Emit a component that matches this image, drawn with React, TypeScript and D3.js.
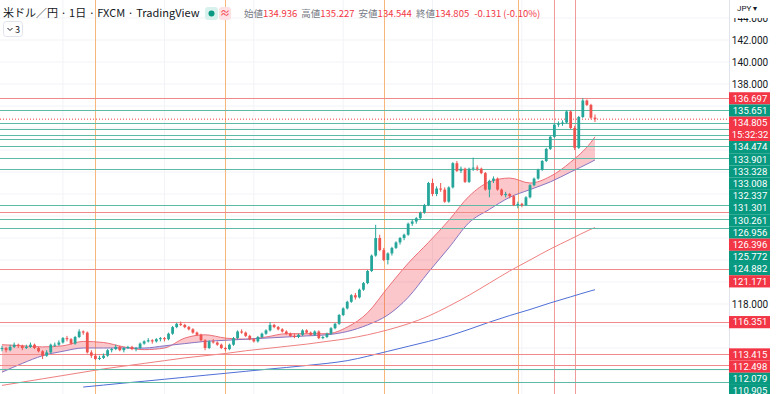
import React from "react";
import * as d3 from "d3";

// 米ドル／円 日足 (FXCM) — 価格は画面から読み取った概算値
const candles: [number, number, number, number][] = [
  [113.9, 114.2, 113.7, 114.0], [114.0, 114.1, 113.6, 113.8], [113.8, 114.3, 113.7, 114.1],
  [114.1, 114.5, 114.0, 114.3], [114.3, 114.4, 114.0, 114.2], [114.2, 114.3, 113.8, 114.0],
  [114.0, 114.3, 113.9, 114.1], [114.1, 114.5, 114.0, 114.3], [114.3, 114.4, 113.9, 114.0],
  [114.0, 114.1, 113.6, 113.7], [113.7, 113.8, 113.0, 113.3], [113.3, 113.8, 113.2, 113.6],
  [113.6, 114.4, 113.5, 114.3], [114.3, 114.5, 114.1, 114.3], [114.3, 114.7, 114.2, 114.5],
  [114.5, 115.0, 114.4, 114.9], [114.9, 115.1, 114.6, 114.8], [114.8, 114.9, 114.3, 114.4],
  [114.4, 115.1, 114.3, 115.0], [115.0, 115.7, 114.9, 115.5], [115.5, 115.6, 115.2, 115.4],
  [115.4, 115.5, 113.5, 113.6], [113.6, 113.8, 113.1, 113.3], [113.3, 113.5, 112.9, 113.0],
  [113.0, 113.3, 112.9, 113.1], [113.1, 113.5, 113.0, 113.3], [113.3, 113.9, 113.2, 113.8],
  [113.8, 114.0, 113.6, 113.9], [113.9, 114.3, 113.8, 114.1], [114.1, 114.2, 113.7, 113.8],
  [113.8, 114.1, 113.6, 114.0], [114.0, 114.2, 113.9, 114.1], [114.1, 114.2, 113.8, 113.9],
  [113.9, 114.1, 113.7, 114.0], [114.0, 114.5, 113.9, 114.4], [114.4, 114.7, 114.3, 114.6],
  [114.6, 114.9, 114.5, 114.7], [114.7, 114.8, 114.4, 114.6], [114.6, 114.9, 114.5, 114.8],
  [114.8, 115.0, 114.6, 114.9], [114.9, 115.0, 114.6, 114.8], [114.8, 115.4, 114.7, 115.3],
  [115.3, 116.0, 115.2, 115.9], [115.9, 116.3, 115.8, 116.2], [116.2, 116.4, 116.0, 116.1],
  [116.1, 116.2, 115.8, 115.9], [115.9, 116.0, 115.6, 115.7], [115.7, 115.8, 115.3, 115.4],
  [115.4, 115.5, 115.1, 115.2], [115.2, 115.3, 114.6, 114.7], [114.7, 114.8, 113.8, 114.0],
  [114.0, 114.7, 113.9, 114.6], [114.6, 114.8, 114.4, 114.5], [114.5, 114.6, 114.2, 114.3],
  [114.3, 114.4, 113.9, 114.0], [114.0, 114.1, 113.7, 113.9], [113.9, 114.4, 113.8, 114.3],
  [114.3, 115.0, 114.2, 114.9], [114.9, 115.6, 114.8, 115.5], [115.5, 115.7, 115.3, 115.4],
  [115.4, 115.5, 115.0, 115.1], [115.1, 115.2, 114.7, 114.8], [114.8, 114.9, 114.5, 114.6],
  [114.6, 115.1, 114.5, 115.0], [115.0, 115.4, 114.9, 115.3], [115.3, 115.7, 115.2, 115.6],
  [115.6, 116.35, 115.5, 116.1], [116.1, 116.2, 115.8, 115.9], [115.9, 116.0, 115.6, 115.7],
  [115.7, 115.8, 115.4, 115.5], [115.5, 115.6, 115.2, 115.3], [115.3, 115.4, 115.0, 115.1],
  [115.1, 115.3, 114.9, 115.0], [115.0, 115.3, 114.9, 115.2], [115.2, 115.7, 115.1, 115.6],
  [115.6, 115.7, 115.3, 115.4], [115.4, 115.5, 115.1, 115.2], [115.2, 115.6, 115.1, 115.5],
  [115.5, 115.6, 114.8, 114.9], [114.9, 115.1, 114.8, 115.0], [115.0, 115.4, 114.9, 115.3],
  [115.3, 115.9, 115.2, 115.8], [115.8, 116.3, 115.7, 116.2], [116.2, 117.1, 116.1, 117.0],
  [117.0, 117.7, 116.9, 117.6], [117.6, 118.3, 117.5, 118.2], [118.2, 118.9, 118.1, 118.8],
  [118.8, 119.0, 118.4, 118.6], [118.6, 119.4, 118.5, 119.3], [119.3, 120.0, 119.2, 119.9],
  [119.9, 121.1, 119.8, 121.0], [121.0, 122.5, 120.9, 122.4], [122.4, 125.2, 122.3, 124.0],
  [124.0, 124.3, 122.8, 122.9], [122.9, 123.1, 121.9, 122.0], [122.0, 122.7, 121.6, 122.6],
  [122.6, 123.2, 122.4, 123.1], [123.1, 123.7, 123.0, 123.6], [123.6, 124.1, 123.4, 124.0],
  [124.0, 124.4, 123.8, 124.3], [124.3, 125.4, 124.2, 125.3], [125.3, 125.7, 125.1, 125.5],
  [125.5, 125.9, 125.3, 125.8], [125.8, 126.4, 125.7, 126.3], [126.3, 127.1, 126.2, 127.0],
  [127.0, 129.1, 126.9, 129.0], [129.0, 129.4, 127.8, 128.0], [128.0, 128.7, 127.8, 128.5],
  [128.5, 129.0, 128.2, 128.4], [128.4, 128.6, 127.2, 127.3], [127.3, 128.7, 127.2, 128.6],
  [128.6, 130.9, 128.5, 130.8], [130.8, 131.0, 130.0, 130.1], [130.1, 130.5, 129.9, 130.3],
  [130.3, 130.4, 129.0, 129.1], [129.1, 130.4, 129.0, 130.3], [130.3, 131.3, 130.1, 130.4],
  [130.4, 130.6, 130.1, 130.3], [130.3, 130.4, 129.8, 129.9], [129.9, 130.0, 128.3, 128.4],
  [128.4, 129.3, 127.7, 129.2], [129.2, 129.6, 129.0, 129.4], [129.4, 129.5, 128.3, 128.4],
  [128.4, 128.5, 127.8, 127.9], [127.9, 128.2, 127.7, 128.0], [128.0, 128.1, 127.6, 127.8],
  [127.8, 127.9, 126.9, 127.0], [127.0, 127.3, 126.7, 127.1], [127.1, 127.2, 126.8, 127.0],
  [127.0, 127.8, 126.9, 127.7], [127.7, 128.9, 127.6, 128.8], [128.8, 129.5, 128.7, 129.4],
  [129.4, 130.3, 129.3, 130.2], [130.2, 131.1, 130.1, 131.0], [131.0, 132.2, 130.9, 132.1],
  [132.1, 133.3, 132.0, 133.2], [133.2, 134.4, 133.1, 134.3], [134.3, 134.6, 134.1, 134.4],
  [134.4, 134.7, 134.2, 134.5], [134.5, 135.6, 134.4, 135.5], [135.5, 135.6, 133.9, 134.0],
  [134.0, 134.2, 132.0, 132.2], [132.2, 135.1, 132.1, 135.0], [135.0, 136.697, 134.9, 136.5],
  [136.5, 136.6, 136.0, 136.1], [136.1, 136.2, 134.8, 134.936], [134.936, 135.227, 134.544, 134.805],
];

// 移動平均線（5本ごとに読み取り）
const maIdx = [0, 5, 10, 15, 20, 25, 30, 35, 40, 45, 50, 55, 60, 65, 70, 75, 80, 85, 90, 95, 100, 105, 110, 115, 120, 125, 130, 135, 140, 145, 146];
const maFast = [114.3, 114.2, 114.1, 114.2, 114.6, 114.5, 114.1, 113.85, 114.0, 114.9, 115.2, 114.9, 114.8, 115.0, 115.3, 115.3, 115.3, 115.9, 117.2, 119.5, 121.7, 123.6, 125.6, 127.8, 129.1, 129.45, 129.0, 129.6, 130.9, 132.7, 133.2];
const maSlow = [111.8, 112.6, 113.3, 113.7, 114.0, 114.0, 114.0, 114.0, 114.2, 114.4, 114.6, 114.7, 114.8, 114.9, 115.0, 115.1, 115.2, 115.5, 116.1, 117.0, 118.6, 120.9, 123.1, 125.4, 126.6, 127.7, 128.4, 129.1, 130.0, 130.9, 131.1];
const maMid = [110.6, 110.9, 111.2, 111.5, 111.8, 112.1, 112.35, 112.6, 112.85, 113.1, 113.3, 113.5, 113.75, 113.95, 114.15, 114.35, 114.6, 114.85, 115.2, 115.65, 116.2, 116.9, 117.8, 118.8, 119.9, 121.0, 122.0, 123.0, 123.9, 124.8, 124.95];
const maLongIdx = [20, 25, 30, 35, 40, 45, 50, 55, 60, 65, 70, 75, 80, 85, 90, 95, 100, 105, 110, 115, 120, 125, 130, 135, 140, 145, 146];
const maLong = [110.45, 110.63, 110.81, 110.98, 111.16, 111.34, 111.52, 111.7, 111.88, 112.06, 112.23, 112.41, 112.6, 112.85, 113.25, 113.7, 114.15, 114.6, 115.1, 115.7, 116.35, 116.95, 117.5, 118.1, 118.65, 119.2, 119.3];

// 水平線
const redLevels = [136.697, 126.396, 121.171, 116.351, 113.415, 112.498];
const greenLevels = [135.651, 134.474, 133.901, 133.328, 133.008, 132.337, 131.301, 130.261, 126.956, 125.772, 124.882, 112.079, 110.905];
const lastPrice = 134.805;
const countdown = "15:32:32";

// 垂直線（ローソク足の番号）
const vLineIdx = [23, 55, 94, 127, 136, 141];
const vLineColors = ["#f7b77a", "#f7b77a", "#f7b77a", "#f7b77a", "#f19a9a", "#f19a9a"];

const priceTicks = [112, 114, 116, 118, 120, 122, 124, 126, 128, 130, 132, 134, 136, 138, 140, 142, 144];

const title = "米ドル／円 · 1日 · FXCM · TradingView";
const ohlcNames = ["始値", "高値", "安値", "終値"];
const ohlcValues = ["134.936", "135.227", "134.544", "134.805"];
const change = "-0.131 (-0.10%)";

const W = 780;
const H = 394;
const AXIS_X = 729;
const UP = "#26a69a";
const DOWN = "#ef5350";
const RED_LABEL = "#f23645";
const GREEN_LABEL = "#089981";
const FONT = "'Noto Sans CJK JP', 'Noto Sans', Roboto, sans-serif";
const AXIS_FONT = "Roboto, 'Liberation Sans', sans-serif";

export default function App() {
  const x = d3.scaleLinear().domain([0, candles.length - 1]).range([2, 595]);
  const y = d3.scaleLinear().domain([112, 142]).range([370, 40]);
  const bw = 2.8;

  const curve = d3.curveMonotoneX;
  const mkLine = (idx: number[], vals: number[]) =>
    d3.line<number>().x((_, k) => x(idx[k])).y((d) => y(d)).curve(curve)(vals) ?? "";

  const band =
    d3.area<number>().x((_, k) => x(maIdx[k])).y0((_, k) => y(maSlow[k])).y1((d) => y(d)).curve(curve)(maFast) ?? "";
  const aboveSlow =
    d3.area<number>().x((_, k) => x(maIdx[k])).y0(0).y1((d) => y(d)).curve(curve)(maSlow) ?? "";
  const belowSlow =
    d3.area<number>().x((_, k) => x(maIdx[k])).y0(H).y1((d) => y(d)).curve(curve)(maSlow) ?? "";

  // 価格ラベル（重なりを下方向へずらす）
  type Lbl = { price: number; color: string; text: string; sub?: string };
  const labels: Lbl[] = [
    ...redLevels.map((p) => ({ price: p, color: RED_LABEL, text: p.toFixed(3) })),
    ...greenLevels.map((p) => ({ price: p, color: GREEN_LABEL, text: p.toFixed(3) })),
    { price: lastPrice, color: RED_LABEL, text: lastPrice.toFixed(3), sub: countdown },
  ].sort((a, b) => b.price - a.price);
  const LH = 12.2;
  let bottom = -Infinity;
  const placed = labels.map((l) => {
    const h = l.sub ? LH * 2 : LH;
    const top = Math.max(y(l.price) - LH / 2, bottom);
    bottom = top + h;
    return { ...l, top, h };
  });

  // ラベルに隠れる目盛りは描かない
  const visibleTicks = priceTicks.filter((t) => {
    const a = y(t) - 5.5;
    const b = y(t) + 5.5;
    const covered = d3.sum(placed, (l) => Math.max(0, Math.min(b, l.top + l.h) - Math.max(a, l.top)));
    return covered < 3;
  });

  return (
    <div style={{ position: "absolute", left: 0, top: 0, width: W, height: H, background: "#fff" }}>
      <svg width={W} height={H} style={{ display: "block", fontFamily: FONT }}>
        <defs>
          <clipPath id="plot">
            <rect x={0} y={0} width={AXIS_X} height={H} />
          </clipPath>
          <clipPath id="above">
            <path d={aboveSlow} />
          </clipPath>
          <clipPath id="below">
            <path d={belowSlow} />
          </clipPath>
        </defs>
        <rect width={W} height={H} fill="#fff" />

        <g clipPath="url(#plot)">
          {/* grid */}
          {priceTicks.map((t) => (
            <line key={t} x1={0} x2={AXIS_X} y1={y(t)} y2={y(t)} stroke="#f2f3f7" />
          ))}
          {[15, 40, 62, 84, 106, 128].map((i) => (
            <line key={i} x1={x(i)} x2={x(i)} y1={0} y2={H} stroke="#f2f3f7" />
          ))}

          {vLineIdx.map((i, k) => (
            <line key={i} x1={Math.round(x(i)) + 0.5} x2={Math.round(x(i)) + 0.5} y1={0} y2={H} stroke={vLineColors[k]} strokeWidth={1} />
          ))}

          {/* band */}
          <path d={band} fill="rgba(242, 54, 69, 0.28)" clipPath="url(#above)" />
          <path d={band} fill="rgba(90, 110, 230, 0.35)" clipPath="url(#below)" />
          <path d={mkLine(maIdx, maFast)} fill="none" stroke="#ec6f78" strokeWidth={1} />
          <path d={mkLine(maIdx, maSlow)} fill="none" stroke="#8a74c0" strokeWidth={1} />
          <path d={mkLine(maIdx, maMid)} fill="none" stroke="#ef8080" strokeWidth={1} />
          <path d={mkLine(maLongIdx, maLong)} fill="none" stroke="#4f6fd6" strokeWidth={1} />

          {/* horizontal levels */}
          {redLevels.map((p) => (
            <line key={"r" + p} x1={0} x2={AXIS_X} y1={Math.round(y(p)) + 0.5} y2={Math.round(y(p)) + 0.5} stroke="#f08a8a" />
          ))}
          {greenLevels.map((p) => (
            <line key={"g" + p} x1={0} x2={AXIS_X} y1={Math.round(y(p)) + 0.5} y2={Math.round(y(p)) + 0.5} stroke="#5fb9a7" />
          ))}
          <line x1={0} x2={AXIS_X} y1={y(lastPrice)} y2={y(lastPrice)} stroke="#f23645" strokeDasharray="1 2" />

          {/* candles */}
          {candles.map(([o, h, l, c], i) => {
            const col = c >= o ? UP : DOWN;
            const cx = x(i);
            const top = y(Math.max(o, c));
            const bh = Math.max(1, y(Math.min(o, c)) - top);
            return (
              <g key={i}>
                <line x1={cx} x2={cx} y1={y(h)} y2={y(l)} stroke={col} strokeWidth={1} />
                <rect x={cx - bw / 2} y={top} width={bw} height={bh} fill={col} />
              </g>
            );
          })}
        </g>

        {/* legend */}
        <text x={3} y={17} fontSize={11} fill="#131722">{title}</text>
        <rect x={205} y={7} width={13} height={13} rx={3} fill="#d9f1ec" />
        <circle cx={211.5} cy={13.5} r={3} fill={GREEN_LABEL} />
        <rect x={219} y={7} width={12} height={13} rx={3} fill="#fde1e4" />
        <text x={225} y={17} fontSize={10} fill={RED_LABEL} textAnchor="middle">≈</text>
        <text x={244} y={17} fontSize={9.5}>
          {ohlcNames.map((n, k) => (
            <React.Fragment key={n}>
              <tspan fill="#787b86" dx={k === 0 ? 0 : 4}>{n}</tspan>
              <tspan fill={RED_LABEL}>{ohlcValues[k]}</tspan>
            </React.Fragment>
          ))}
          <tspan fill={RED_LABEL} dx={5}>{change}</tspan>
        </text>
        <rect x={3.5} y={21.5} width={19} height={15} rx={3} fill="#fff" stroke="#e0e3eb" />
        <path d="M7.5 28 L10 30.5 L12.5 28" fill="none" stroke="#131722" strokeWidth={1} />
        <text x={15} y={32.5} fontSize={9} fill="#131722">3</text>

        {/* price axis */}
        <g fontFamily={AXIS_FONT}>
          <rect x={AXIS_X} y={0} width={W - AXIS_X} height={H} fill="#fff" />
          <line x1={AXIS_X + 0.5} x2={AXIS_X + 0.5} y1={0} y2={H} stroke="#e0e3eb" />
          {visibleTicks.map((t) => (
            <text key={t} x={750} y={y(t) + 3.5} fontSize={10} fill="#131722" textAnchor="middle">
              {t.toFixed(3)}
            </text>
          ))}
          {placed.map((l) => (
            <g key={l.text}>
              <rect x={AXIS_X} y={l.top} width={41} height={l.h} fill={l.color} />
              <text x={750} y={l.top + LH / 2 + 3.3} fontSize={9.5} fill="#fff" textAnchor="middle">{l.text}</text>
              {l.sub && (
                <text x={750} y={l.top + LH * 1.5 + 3.3} fontSize={9.5} fill="#fff" textAnchor="middle">{l.sub}</text>
              )}
            </g>
          ))}
          <rect x={AXIS_X + 1} y={0} width={W - AXIS_X - 1} height={18} fill="#fff" />
          <text x={737} y={11} fontSize={8} fill="#131722">JPY ▾</text>
        </g>
      </svg>
    </div>
  );
}
